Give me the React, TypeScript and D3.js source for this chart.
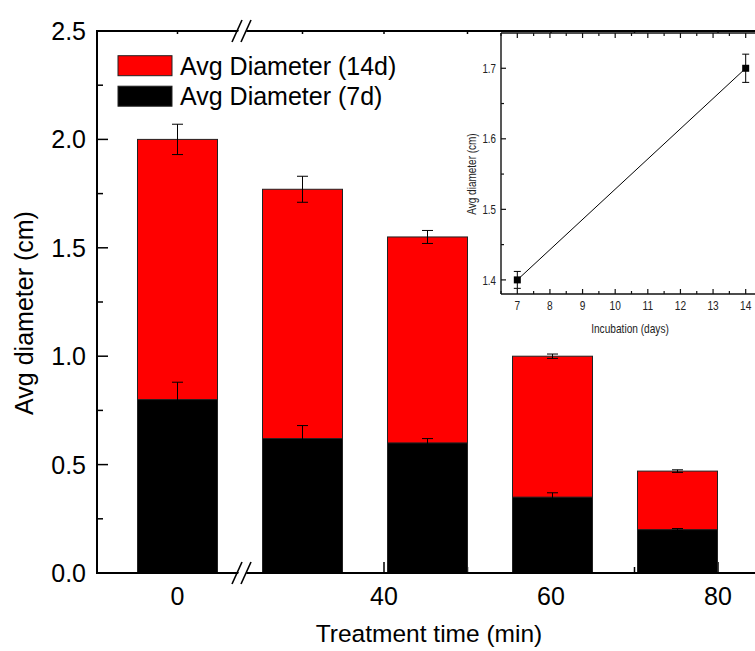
import React from "react";
import * as d3 from "d3";

// Stacked bar series: 7-day diameter drawn over the 14-day diameter
const barDiam14d = [2.0, 1.77, 1.55, 1.0, 0.47];
const barErr14d = [0.07, 0.06, 0.03, 0.01, 0.006];
const barDiam7d = [0.8, 0.62, 0.6, 0.35, 0.2];
const barErr7d = [0.08, 0.06, 0.02, 0.02, 0.005];

// Treatment-time axis: first segment labelled at the first two bars, second segment on a time scale
const segATickLabels = ["0", ""];
const segBTicks = [40, 50, 60, 70, 80];
const segBMajor = [40, 60, 80];
const yTicks = [0, 0.5, 1.0, 1.5, 2.0, 2.5];
const yMinorTicks = [0.25, 0.75, 1.25, 1.75, 2.25];

const legendLabels = ["Avg Diameter (14d)", "Avg Diameter (7d)"];
const seriesColors = ["#ff0000", "#000000"];

// Inset: diameter vs incubation days
const insetDays = [7, 14];
const insetDiam = [1.4, 1.7];
const insetErr = [0.012, 0.02];
const insetXTicks = [7, 8, 9, 10, 11, 12, 13, 14];
const insetYTicks = [1.4, 1.5, 1.6, 1.7];

const FONT = "'Liberation Sans', Arial, sans-serif";

export default function App() {
  const W = 755;
  const H = 651;
  const left = 97;
  const top = 31;
  const bottom = 573;
  const rightEdge = 760;

  const y = d3.scaleLinear().domain([0, 2.5]).range([bottom, top]);
  const xBar = d3.scaleLinear().domain([0, 4]).range([177.5, 677.5]);
  const xTime = d3.scaleLinear().domain([40, 80]).range([384, 718]);
  const barW = 80;
  const capHalf = 5.5;
  const breakX = 243;

  // inset geometry
  const iL = 501;
  const iT = 33;
  const iB = 294;
  const iR = 762;
  const ix = d3.scaleLinear().domain([6.5, 14.5]).range([iL, iR]);
  const iy = d3.scaleLinear().domain([1.38, 1.75]).range([iB, iT]);
  const insetLine = d3
    .line<number>()
    .x((_, i) => ix(insetDays[i]))
    .y((d) => iy(d));
  const insetMinorX = d3.range(6.5, 14.6, 0.5).filter((v) => !Number.isInteger(v));
  const insetMinorY = [1.45, 1.55, 1.65];

  const segATicks = segATickLabels.map((_, i) => xBar(i));

  const breakMark = (cx: number, cy: number, key: string) => (
    <g key={key}>
      <polygon
        points={`${cx - 7},${cy + 6} ${cx - 2},${cy - 6} ${cx + 6},${cy - 6} ${cx + 1},${cy + 6}`}
        fill="#fff"
      />
      <line x1={cx - 11} y1={cy + 11} x2={cx - 1} y2={cy - 11} stroke="#000" strokeWidth={1.6} />
      <line x1={cx - 2} y1={cy + 11} x2={cx + 8} y2={cy - 11} stroke="#000" strokeWidth={1.6} />
    </g>
  );

  return (
    <svg
      width={W}
      height={H}
      style={{ position: "absolute", left: 0, top: 0, background: "#fff" }}
      fontFamily={FONT}
    >
      <rect x={0} y={0} width={W} height={H} fill="#fff" />

      {/* axis ticks (drawn under the bars) */}
      {yTicks.map((t) => (
        <line key={"yt" + t} x1={left} x2={left + 11} y1={y(t)} y2={y(t)} stroke="#000" strokeWidth={1.5} />
      ))}
      {yMinorTicks.map((t) => (
        <line key={"ym" + t} x1={left} x2={left + 6} y1={y(t)} y2={y(t)} stroke="#000" strokeWidth={1.5} />
      ))}
      {segATicks.map((px, i) => (
        <g key={"sa" + i}>
          <line x1={px} x2={px} y1={bottom} y2={bottom - (i === 0 ? 11 : 6)} stroke="#000" strokeWidth={1.5} />
          <line x1={px} x2={px} y1={top} y2={top + 3} stroke="#000" strokeWidth={1.5} />
        </g>
      ))}
      {segBTicks.map((t) => {
        const major = segBMajor.includes(t);
        return (
          <g key={"sb" + t}>
            <line x1={xTime(t)} x2={xTime(t)} y1={bottom} y2={bottom - (major ? 11 : 6)} stroke="#000" strokeWidth={1.5} />
            <line x1={xTime(t)} x2={xTime(t)} y1={top} y2={top + 3} stroke="#000" strokeWidth={1.5} />
          </g>
        );
      })}

      {/* stacked bars */}
      {barDiam14d.map((v, i) => (
        <rect
          key={"r" + i}
          x={xBar(i) - barW / 2}
          y={y(v)}
          width={barW}
          height={y(0) - y(v)}
          fill={seriesColors[0]}
          stroke="#222"
          strokeWidth={1}
        />
      ))}
      {barDiam7d.map((v, i) => (
        <rect
          key={"b" + i}
          x={xBar(i) - barW / 2}
          y={y(v)}
          width={barW}
          height={y(0) - y(v)}
          fill={seriesColors[1]}
          stroke="#222"
          strokeWidth={1}
        />
      ))}

      {/* error bars */}
      {[
        { vals: barDiam14d, errs: barErr14d, k: "e14" },
        { vals: barDiam7d, errs: barErr7d, k: "e7" },
      ].map(({ vals, errs, k }) =>
        vals.map((v, i) => {
          const cx = xBar(i);
          const yHi = y(v + errs[i]);
          const yLo = y(v - errs[i]);
          return (
            <g key={k + i} stroke="#000" strokeWidth={1}>
              <line x1={cx} x2={cx} y1={yHi} y2={yLo} />
              <line x1={cx - capHalf} x2={cx + capHalf} y1={yHi} y2={yHi} />
              <line x1={cx - capHalf} x2={cx + capHalf} y1={yLo} y2={yLo} />
            </g>
          );
        })
      )}

      {/* frame */}
      <line x1={left} x2={left} y1={top - 1} y2={bottom + 1} stroke="#000" strokeWidth={2} />
      <line x1={left - 1} x2={rightEdge} y1={bottom} y2={bottom} stroke="#000" strokeWidth={2} />
      <line x1={left - 1} x2={rightEdge} y1={top} y2={top} stroke="#000" strokeWidth={2} />
      {breakMark(breakX, bottom, "bk1")}
      {breakMark(breakX, top, "bk2")}

      {/* y tick labels */}
      {yTicks.map((t) => (
        <text key={"yl" + t} x={86} y={y(t)} dy="0.36em" textAnchor="end" fontSize={25} fill="#000">
          {t.toFixed(1)}
        </text>
      ))}
      {/* x tick labels */}
      {segATickLabels.map((lab, i) =>
        lab ? (
          <text key={"xla" + i} x={segATicks[i]} y={605} textAnchor="middle" fontSize={25} fill="#000">
            {lab}
          </text>
        ) : null
      )}
      {segBMajor.map((t) => (
        <text key={"xlb" + t} x={xTime(t)} y={605} textAnchor="middle" fontSize={25} fill="#000">
          {t}
        </text>
      ))}

      {/* axis titles */}
      <text x={429} y={642} textAnchor="middle" fontSize={24.5} fill="#000">
        Treatment time (min)
      </text>
      <text transform="translate(33,313) rotate(-90)" textAnchor="middle" fontSize={25} fill="#000">
        Avg diameter (cm)
      </text>

      {/* legend */}
      {legendLabels.map((lab, i) => (
        <g key={"lg" + i}>
          <rect x={118} y={55.7 + i * 30.5} width={54} height={20} fill={seriesColors[i]} stroke="#222" strokeWidth={1} />
          <text x={180} y={65.7 + i * 30.5} dy="0.36em" fontSize={25} fill="#000">
            {lab}
          </text>
        </g>
      ))}

      {/* inset */}
      <g>
        <rect x={iL} y={iT} width={iR - iL} height={iB - iT} fill="#fff" />
        {insetXTicks.map((t) => (
          <g key={"ixt" + t}>
            <line x1={ix(t)} x2={ix(t)} y1={iB} y2={iB - 5} stroke="#111" strokeWidth={1.2} />
            <line x1={ix(t)} x2={ix(t)} y1={iT} y2={iT + 5} stroke="#111" strokeWidth={1.2} />
            <text
              transform={`translate(${ix(t)},310) scale(0.78,1)`}
              textAnchor="middle"
              fontSize={13}
              fill="#222"
            >
              {t}
            </text>
          </g>
        ))}
        {insetMinorX.map((t) => (
          <g key={"ixm" + t}>
            <line x1={ix(t)} x2={ix(t)} y1={iB} y2={iB - 3} stroke="#111" strokeWidth={1.2} />
            <line x1={ix(t)} x2={ix(t)} y1={iT} y2={iT + 3} stroke="#111" strokeWidth={1.2} />
          </g>
        ))}
        {insetYTicks.map((t) => (
          <g key={"iyt" + t}>
            <line x1={iL} x2={iL + 5} y1={iy(t)} y2={iy(t)} stroke="#111" strokeWidth={1.2} />
            <text
              transform={`translate(496,${iy(t)}) scale(0.75,1)`}
              dy="0.36em"
              textAnchor="end"
              fontSize={13}
              fill="#222"
            >
              {t.toFixed(1)}
            </text>
          </g>
        ))}
        {insetMinorY.map((t) => (
          <line key={"iym" + t} x1={iL} x2={iL + 3} y1={iy(t)} y2={iy(t)} stroke="#111" strokeWidth={1.2} />
        ))}
        <line x1={iL} x2={iL} y1={iT} y2={iB} stroke="#111" strokeWidth={1.4} />
        <line x1={iL} x2={iR} y1={iB} y2={iB} stroke="#111" strokeWidth={1.4} />
        <line x1={iL} x2={iR} y1={iT} y2={iT} stroke="#111" strokeWidth={1.4} />

        <path d={insetLine(insetDiam) || ""} fill="none" stroke="#000" strokeWidth={1} />
        {insetDiam.map((v, i) => {
          const cx = ix(insetDays[i]);
          return (
            <g key={"ip" + i} stroke="#000" strokeWidth={1}>
              <line x1={cx} x2={cx} y1={iy(v + insetErr[i])} y2={iy(v - insetErr[i])} />
              <line x1={cx - 3.5} x2={cx + 3.5} y1={iy(v + insetErr[i])} y2={iy(v + insetErr[i])} />
              <line x1={cx - 3.5} x2={cx + 3.5} y1={iy(v - insetErr[i])} y2={iy(v - insetErr[i])} />
              <rect x={cx - 3.5} y={iy(v) - 3.5} width={7} height={7} fill="#000" stroke="none" />
            </g>
          );
        })}

        <text transform="translate(630,333) scale(0.78,1)" textAnchor="middle" fontSize={13} fill="#222">
          Incubation (days)
        </text>
        <text transform="translate(476,174) rotate(-90) scale(0.8,1)" textAnchor="middle" fontSize={12.5} fill="#222">
          Avg diameter (cm)
        </text>
      </g>
    </svg>
  );
}
